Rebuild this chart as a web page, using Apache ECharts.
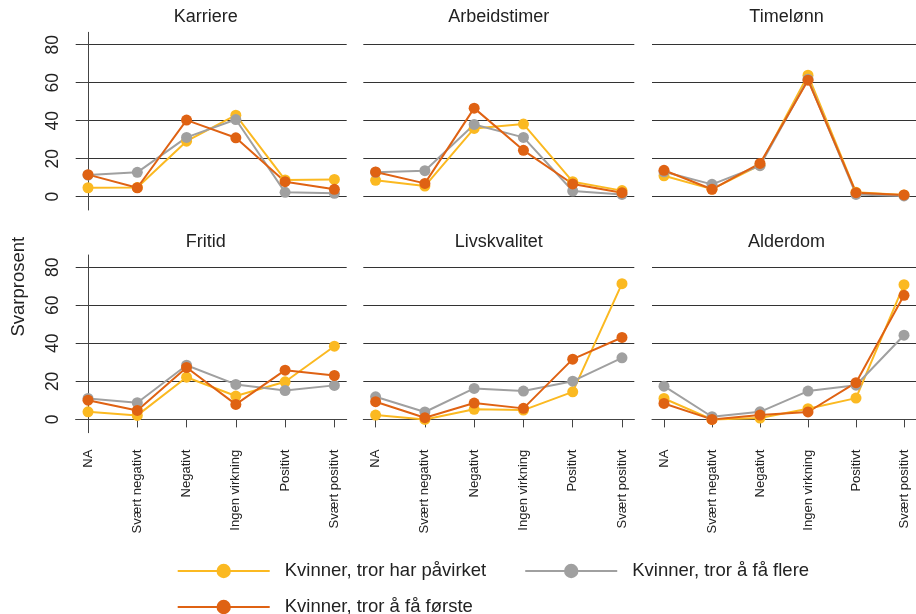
<!DOCTYPE html>
<html>
<head>
<meta charset="utf-8">
<script src="https://cdn.jsdelivr.net/npm/echarts@6/dist/echarts.min.js"></script>
<style>
  html, body { margin: 0; padding: 0; background: #fff; }
  #chart { width: 916px; height: 614px; }
</style>
</head>
<body>
<div id="chart"></div>
<script>
// kategorier og paneler
const kategorier = ['NA', 'Svært negativt', 'Negativt', 'Ingen virkning', 'Positivt', 'Svært positivt'];
const paneler = ['Karriere', 'Arbeidstimer', 'Timelønn', 'Fritid', 'Livskvalitet', 'Alderdom'];
const serieNavn = ['Kvinner, tror har påvirket', 'Kvinner, tror å få flere', 'Kvinner, tror å få første'];
const yTicks = [0, 20, 40, 60, 80];

// svarprosent, en rad per panel (samme rekkefolge som paneler)
const harPavirket = [
  [4.7, 4.8, 29.2, 42.9, 8.8, 9.1],
  [8.6, 5.6, 35.9, 38.2, 7.9, 3.2],
  [11.0, 4.0, 16.6, 63.9, 2.3, 0.9],
  [4.0, 2.1, 22.2, 12.3, 19.8, 38.5],
  [2.3, 0.0, 5.3, 4.9, 14.5, 71.4],
  [11.0, 0.0, 0.7, 5.6, 11.2, 70.9]
];
const faFlere = [
  [11.4, 12.8, 31.2, 40.6, 2.3, 1.8],
  [12.8, 13.7, 38.0, 31.2, 3.0, 1.2],
  [13.1, 6.5, 16.3, 61.8, 1.2, 0.4],
  [11.0, 8.8, 28.5, 18.4, 15.2, 17.9],
  [11.9, 3.9, 16.3, 14.9, 20.1, 32.4],
  [17.5, 1.4, 4.0, 14.9, 18.0, 44.3]
];
const faForste = [
  [11.6, 4.7, 40.3, 31.0, 7.9, 3.9],
  [13.0, 7.0, 46.6, 24.4, 6.7, 2.1],
  [13.9, 3.9, 17.5, 61.3, 2.1, 0.9],
  [10.1, 4.7, 27.3, 7.9, 25.9, 23.1],
  [9.3, 0.9, 8.6, 5.8, 31.7, 43.1],
  [8.4, 0.0, 2.3, 3.9, 19.3, 65.3]
];

const farger = ['#FBB921', '#A0A0A0', '#DF6213'];
const kolLeft = [75.7, 363.3, 652];
const radTop = [32.3, 255];
const panelW = 271;
const panelH = 177.7;
const tittelX = [205.7, 498.8, 786.5];

const myChart = echarts.init(document.getElementById('chart'));

let grids = [], xAxes = [], yAxes = [], titles = [], series = [];
paneler.forEach(function (navn, i) {
  const kol = i % 3, rad = Math.floor(i / 3);
  grids.push({ left: kolLeft[kol], top: radTop[rad], width: panelW, height: panelH });
  titles.push({
    text: navn, left: tittelX[kol], top: rad === 0 ? 8 : 233, textAlign: 'center', padding: 0,
    textStyle: { fontFamily: 'Liberation Sans', fontSize: 18, fontWeight: 'normal', color: '#222' }
  });
  xAxes.push({
    type: 'value', gridIndex: i, min: -0.25, max: 5.25,
    show: rad === 1,
    splitLine: { show: false },
    axisLine: { show: true, lineStyle: { color: '#444', width: 1 } },
    axisTick: { show: true, length: 8, customValues: [0, 1, 2, 3, 4, 5], lineStyle: { color: '#444' } },
    axisLabel: {
      customValues: [0, 1, 2, 3, 4, 5], rotate: 90, margin: 17,
      fontFamily: 'Liberation Sans', fontSize: 13, color: '#222',
      formatter: function (v) { return kategorier[Math.round(v)]; }
    }
  });
  yAxes.push({
    type: 'value', gridIndex: i, min: -7, max: 86.5,
    axisLine: { show: kol === 0, lineStyle: { color: '#444', width: 1 } },
    axisTick: { show: kol === 0, length: 8, customValues: yTicks, lineStyle: { color: '#444' } },
    axisLabel: {
      show: kol === 0, customValues: yTicks, rotate: 90, margin: 14,
      fontFamily: 'Liberation Sans', fontSize: 17.5, color: '#222'
    },
    splitLine: { show: true, lineStyle: { color: '#333', width: 1 } }
  });
  [harPavirket, faFlere, faForste].forEach(function (arr, s) {
    series.push({
      name: serieNavn[s], type: 'line', xAxisIndex: i, yAxisIndex: i,
      data: arr[i].map(function (v, k) { return [k, v]; }),
      symbol: 'circle', symbolSize: 11,
      lineStyle: { width: 2, color: farger[s] },
      itemStyle: { color: farger[s] },
      emphasis: { disabled: true },
      animation: false
    });
  });
});

const legendTekst = { fontFamily: 'Liberation Sans', fontSize: 18.5, color: '#222', lineHeight: 20, padding: [0, 0, 0, 10] };

const option = {
  animation: false,
  color: farger,
  title: titles,
  grid: grids,
  xAxis: xAxes,
  yAxis: yAxes,
  legend: [
    {
      data: [serieNavn[0], serieNavn[1]], left: 176.7, top: 561, padding: 0,
      itemWidth: 92, itemHeight: 18, itemGap: 38, textStyle: legendTekst
    },
    {
      data: [serieNavn[2]], left: 176.7, top: 597, padding: 0,
      itemWidth: 92, itemHeight: 18, textStyle: legendTekst
    }
  ],
  graphic: [{
    type: 'text', x: 18.8, y: 286.7, rotation: Math.PI / 2,
    style: {
      text: 'Svarprosent', fontFamily: 'Liberation Sans', fontSize: 18.5, fill: '#222',
      align: 'center', verticalAlign: 'middle'
    }
  }],
  series: series
};
myChart.setOption(option);
</script>
</body>
</html>
